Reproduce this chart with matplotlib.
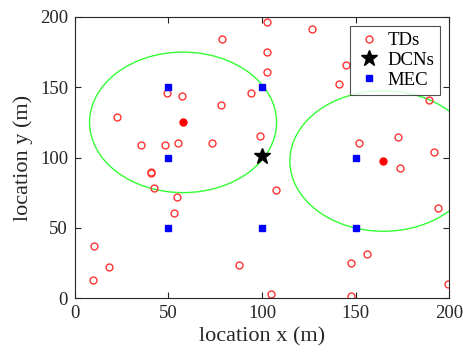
import numpy as np
import matplotlib
matplotlib.use('Agg')
from matplotlib import pyplot as plt
from matplotlib.patches import Circle

# terminal devices (TDs)
td_x = [102.5, 78.6, 102.5, 102.8, 49.0, 57.2, 94.1, 78.1, 22.3, 99.1, 35.3, 48.1,
        54.9, 73.4, 126.9, 145.1, 141.0, 189.1, 172.7, 152.0, 192.0, 40.5, 40.8,
        42.2, 54.4, 52.9, 10.0, 18.2, 9.8, 87.7, 104.8, 173.8, 107.3, 194.0, 156.0,
        147.8, 199.6, 147.6]
td_y = [196.7, 184.6, 174.9, 160.6, 145.7, 143.6, 146.1, 137.6, 129.1, 115.3, 108.9, 108.9,
        110.5, 110.5, 191.5, 165.8, 152.5, 140.7, 114.4, 110.3, 104.1, 89.3, 90.0,
        78.5, 72.1, 60.7, 37.0, 21.8, 12.8, 23.5, 2.6, 92.5, 76.6, 63.8, 31.1,
        25.1, 10.2, 1.7]

# DCN
dcn_x = [100]
dcn_y = [101]

# MEC servers
mec_x = [50, 100, 50, 50, 100, 150, 150]
mec_y = [150, 150, 100, 50, 50, 100, 50]

# cluster centers and coverage radius
center_x = [57.8, 164.9]
center_y = [125.0, 97.5]
radius = 50

plt.rcParams['font.family'] = ['Liberation Serif', 'DejaVu Serif']

fig = plt.figure(figsize=(4.64, 3.6), dpi=100)
ax = fig.add_axes([0.1616, 0.1722, 0.8061, 0.7806])

for cx, cy in zip(center_x, center_y):
    ax.add_patch(Circle((cx, cy), radius, fill=False, edgecolor='#33ff33', linewidth=1.0))

ax.plot(td_x, td_y, 'o', markerfacecolor='none', markeredgecolor='#ff3333',
        markersize=5, markeredgewidth=1.0, linestyle='none', label='TDs')
ax.plot(dcn_x, dcn_y, '*', color='black', markersize=12, linestyle='none', label='DCNs')
ax.plot(mec_x, mec_y, 's', color='#0000ff', markersize=5, linestyle='none', label='MEC')
ax.plot(center_x, center_y, 'o', color='red', markersize=5, linestyle='none')

ax.set_xlim(0, 200)
ax.set_ylim(0, 200)
ax.set_xticks([0, 50, 100, 150, 200])
ax.set_yticks([0, 50, 100, 150, 200])
ax.tick_params(direction='in', top=True, right=True, labelsize=13.5, colors='#262626',
               length=4, pad=5)
for s in ax.spines.values():
    s.set_color('#262626')
    s.set_linewidth(0.8)

ax.set_xlabel('location x (m)', fontsize=16, color='#262626', labelpad=4)
ax.set_ylabel('location y (m)', fontsize=16, color='#262626', labelpad=5)

leg = ax.legend(loc='upper right', fontsize=13.5, frameon=True, fancybox=False,
                edgecolor='#262626', borderpad=0.3, handletextpad=0.2,
                labelspacing=0.15, handlelength=1.5, borderaxespad=0.5)
leg.get_frame().set_linewidth(0.8)

plt.savefig('out.png', dpi=100)
